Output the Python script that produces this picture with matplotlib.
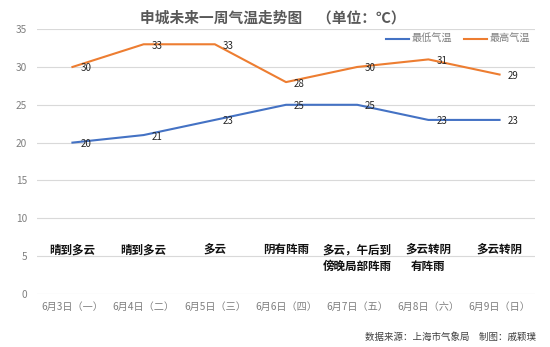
import matplotlib
matplotlib.use('Agg')
import matplotlib.pyplot as plt

plt.rcParams['font.family'] = ['Noto Sans CJK SC', 'DejaVu Sans']

# 一周气温数据
dates = ['6月3日（一）', '6月4日（二）', '6月5日（三）', '6月6日（四）',
         '6月7日（五）', '6月8日（六）', '6月9日（日）']
low = [20, 21, 23, 25, 25, 23, 23]
high = [30, 33, 33, 28, 30, 31, 29]
weather = ['晴到多云', '晴到多云', '多云', '阴有阵雨',
           '多云，午后到\n傍晚局部阵雨', '多云转阴\n有阵雨', '多云转阴']

fig = plt.figure(figsize=(5.5, 3.47), dpi=100)
ax = fig.add_axes([0.067, 0.153, 0.906, 0.763])

x = list(range(len(dates)))
ax.plot(x, low, color='#4472C4', lw=1.5, label='最低气温')
ax.plot(x, high, color='#ED7D31', lw=1.5, label='最高气温')

for i in x:
    ax.text(i + 0.11, low[i] - 0.2, str(low[i]), fontsize=7, va='center', ha='left', color='#262626')
    ax.text(i + 0.11, high[i] - 0.2, str(high[i]), fontsize=7, va='center', ha='left', color='#262626')
    ax.text(i, 6.6, weather[i], fontsize=8.3, fontweight='bold', va='top', ha='center',
            color='#111111', linespacing=1.3)

ax.set_xlim(-0.5, 6.5)
ax.set_ylim(0, 35)
ax.set_yticks(range(0, 36, 5))
ax.set_xticks(x)
ax.set_xticklabels(dates)
ax.tick_params(axis='both', length=0, labelsize=7.3, labelcolor='#7f7f7f')
ax.tick_params(axis='x', pad=6)
ax.tick_params(axis='y', pad=7)
ax.grid(axis='y', color='#d9d9d9', lw=0.8)
ax.set_axisbelow(True)
for s in ax.spines.values():
    s.set_visible(False)

ax.legend(loc='upper right', bbox_to_anchor=(1.0, 1.0), ncol=2, frameon=False,
          fontsize=7.3, labelcolor='#7f7f7f', handlelength=2.2, columnspacing=1.2,
          handletextpad=0.3, borderaxespad=0.1)

fig.text(0.495, 0.95, '申城未来一周气温走势图　（单位：℃）', fontsize=10.6, fontweight='bold',
         color='#595959', ha='center', va='center')
fig.text(0.975, 0.03, '数据来源：上海市气象局　制图：戚颖璞', fontsize=6.8, color='#404040',
         ha='right', va='center')

fig.savefig('out.png', dpi=100)
